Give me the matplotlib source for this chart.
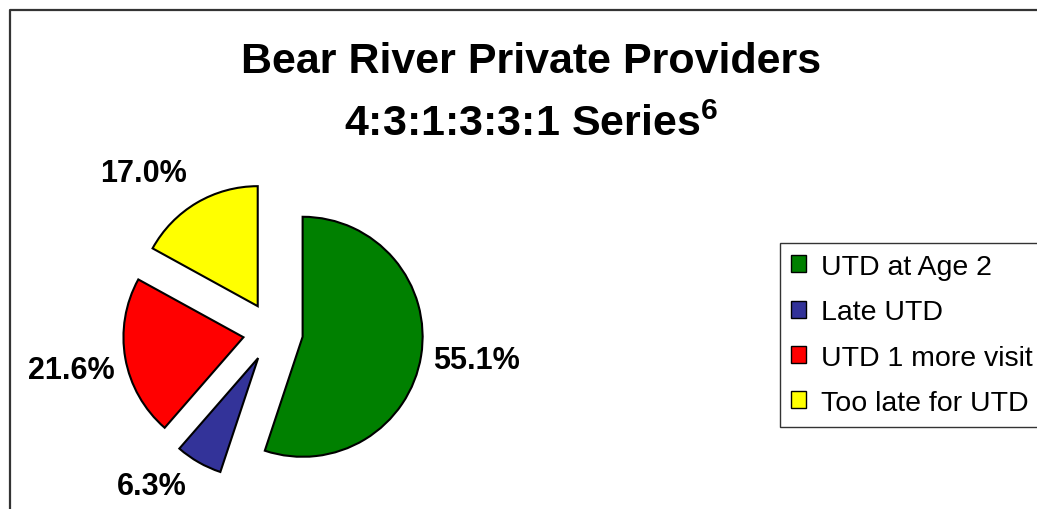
import math
import matplotlib
matplotlib.use('Agg')
import matplotlib.pyplot as plt
from matplotlib.patches import Patch
from matplotlib.lines import Line2D

plt.rcParams['font.family'] = ['Liberation Sans', 'DejaVu Sans']
plt.rcParams['mathtext.fontset'] = 'custom'
plt.rcParams['mathtext.bf'] = 'Liberation Sans:bold'
plt.rcParams['mathtext.rm'] = 'Liberation Sans:bold'
plt.rcParams['mathtext.default'] = 'bf'

# data
categories = ['UTD at Age 2', 'Late UTD', 'UTD 1 more visit', 'Too late for UTD']
shares = [55.1, 6.3, 21.6, 17.0]
colors = ['#008000', '#333399', '#FF0000', '#FFFF00']
title_lines = ['Bear River Private Providers', '4:3:1:3:3:1 Series$^{6}$']

# label placement tweaks (Excel puts labels a bit off the bisector)
label_shift_deg = [1.6, -10.0, 0.8, 10.0]
label_dist = [1.46, 1.39, 1.46, 1.46]

W, H = 1037, 510
fig = plt.figure(figsize=(W / 100, H / 100), dpi=100)
ax = fig.add_axes([0, 0, 1, 1])

# chart area frame (left and top edges visible)
ax.add_line(Line2D([10, 10, W + 5], [-5, H - 11, H - 11], color='#333333', lw=1.6))

wedges, texts = ax.pie(
    shares, colors=colors, startangle=90, counterclock=False,
    explode=[30] * len(shares), center=(273, H - 333), radius=120,
    wedgeprops=dict(edgecolor='black', linewidth=1.5))
ax.set_xlim(0, W)
ax.set_ylim(0, H)
ax.set_aspect('equal')
ax.axis('off')

for w, v, sh, d in zip(wedges, shares, label_shift_deg, label_dist):
    mid = math.radians(0.5 * (w.theta1 + w.theta2) + sh)
    cx, cy = w.center
    ax.text(cx + d * w.r * math.cos(mid), cy + d * w.r * math.sin(mid),
            f'{v:.1f}%', fontsize=22, fontweight='bold', ha='center', va='center')

ax.text(531, H - 62, title_lines[0], fontsize=31, fontweight='bold', ha='center', va='center')
ax.text(531, H - 125, title_lines[1], fontsize=31, fontweight='bold', ha='center', va='center')

handles = [Patch(facecolor=c, edgecolor='black', linewidth=1) for c in colors]
leg = fig.legend(handles, categories, loc='upper left',
                 bbox_to_anchor=(780 / W, 1 - 244 / H), fontsize=20.5,
                 frameon=True, fancybox=False, edgecolor='black',
                 handlelength=0.55, handleheight=0.55, handletextpad=0.5,
                 labelspacing=0.68, borderpad=0.38, borderaxespad=0)
leg.get_frame().set_linewidth(1.0)

fig.savefig('out.png', dpi=100)
